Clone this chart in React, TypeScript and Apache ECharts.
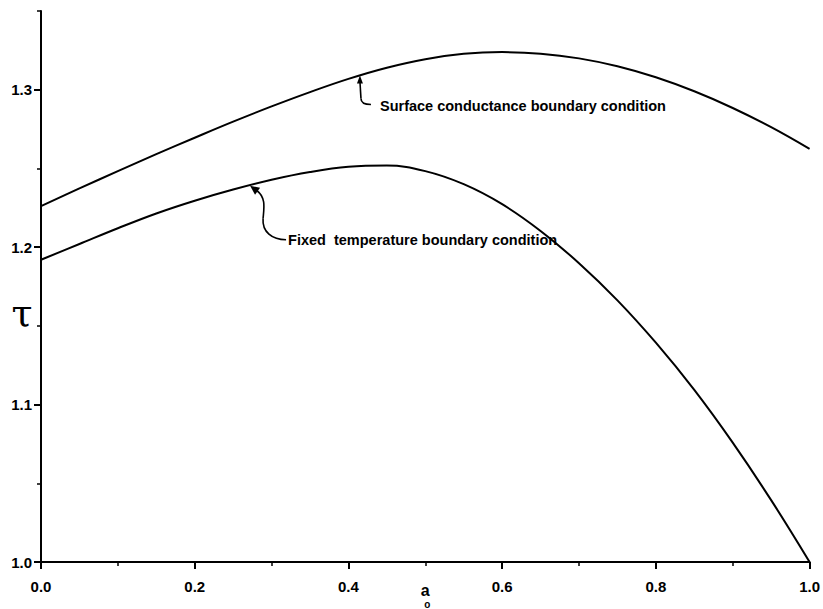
import React, { useEffect, useRef } from "react";
import * as echarts from "echarts";

// ---- data ----
const xValues = [0, 0.05, 0.1, 0.15, 0.2, 0.25, 0.3, 0.35, 0.4, 0.45, 0.5, 0.55, 0.6, 0.65, 0.7, 0.75, 0.8, 0.85, 0.9, 0.95, 1.0];
const surfaceConductance = [1.226, 1.2373, 1.2483, 1.2591, 1.2695, 1.2797, 1.2894, 1.2985, 1.3069, 1.314, 1.3194, 1.3228, 1.3239, 1.3229, 1.3199, 1.3149, 1.3079, 1.299, 1.2884, 1.2762, 1.2624];
const fixedTemperature = [1.192, 1.202, 1.212, 1.2214, 1.2295, 1.2366, 1.2428, 1.2477, 1.251, 1.2518, 1.2483, 1.24, 1.2273, 1.2103, 1.1898, 1.1662, 1.1393, 1.1093, 1.0758, 1.0393, 1.0];

const yMajorTicks = [1.0, 1.1, 1.2, 1.3];
const yMinorTicks = [1.05, 1.15, 1.25, 1.35];

const upperNoteText = "Surface conductance boundary condition";
const lowerNoteText = "Fixed  temperature boundary condition";
const upperNoteAnchor = [0.415, 1.309];
const lowerNoteAnchor = [0.272, 1.239];
const yNameAnchor = 1.158;

const FONT = "'Liberation Sans', Arial, sans-serif";

export default function App() {
  const ref = useRef<HTMLDivElement>(null);

  useEffect(() => {
    if (!ref.current) return;
    const chart = echarts.init(ref.current, null, { renderer: "svg" });

    const pairs = (ys: number[]) => xValues.map((x, i) => [x, ys[i]]);

    const option: any = {
      animation: false,
      backgroundColor: "#fff",
      grid: { left: 41, right: 6, top: 11, bottom: 47, containLabel: false },
      xAxis: {
        type: "value",
        min: 0,
        max: 1,
        interval: 0.2,
        axisLine: { show: true, lineStyle: { color: "#000", width: 2 } },
        axisTick: { show: true, length: 7, lineStyle: { color: "#000", width: 2 } },
        minorTick: { show: true, splitNumber: 2, length: 4, lineStyle: { color: "#000", width: 1.5 } },
        splitLine: { show: false },
        axisLabel: {
          color: "#000",
          fontFamily: FONT,
          fontWeight: "bold",
          fontSize: 15,
          margin: 17,
          formatter: (v: number) => v.toFixed(1),
        },
      },
      yAxis: [
        {
          type: "value",
          position: "left",
          min: 1.0,
          max: 1.35,
          interval: 0.05,
          axisLine: { show: true, lineStyle: { color: "#000", width: 2 } },
          axisTick: { show: true, length: 4, customValues: yMinorTicks, lineStyle: { color: "#000", width: 1.5 } },
          axisLabel: { show: false },
          splitLine: { show: false },
        },
        {
          type: "value",
          position: "left",
          min: 1.0,
          max: 1.35,
          interval: 0.05,
          axisLine: { show: false },
          axisTick: { show: true, length: 7, customValues: yMajorTicks, lineStyle: { color: "#000", width: 2 } },
          axisLabel: {
            show: true,
            customValues: yMajorTicks,
            color: "#000",
            fontFamily: FONT,
            fontWeight: "bold",
            fontSize: 15,
            margin: 9,
            formatter: (v: number) => v.toFixed(1),
          },
          splitLine: { show: false },
        },
      ],
      series: [
        {
          name: "Surface conductance boundary condition",
          type: "line",
          data: pairs(surfaceConductance),
          smooth: 0.4,
          showSymbol: false,
          lineStyle: { color: "#000", width: 2 },
          yAxisIndex: 0,
        },
        {
          name: "Fixed temperature boundary condition",
          type: "line",
          data: pairs(fixedTemperature),
          smooth: 0.4,
          showSymbol: false,
          lineStyle: { color: "#000", width: 2 },
          yAxisIndex: 0,
        },
      ],
    };

    chart.setOption(option);

    const toPx = (p: number[]) => chart.convertToPixel({ xAxisIndex: 0, yAxisIndex: 0 }, p) as number[];
    const [ux, uy] = toPx(upperNoteAnchor);
    const [lx, ly] = toPx(lowerNoteAnchor);
    const [, tauY] = toPx([0, yNameAnchor]);
    const [midX, baseY] = toPx([0.5, 1.0]);

    const stroke = { stroke: "#000", lineWidth: 1.6, fill: "none" };
    const noteStyle = {
      fill: "#000",
      fontFamily: FONT,
      fontWeight: "bold",
      fontSize: 14.5,
      verticalAlign: "middle",
      align: "left",
    };

    chart.setOption({
      graphic: [
        // upper annotation
        { type: "polygon", shape: { points: [[ux, uy], [ux - 3, uy + 8], [ux + 3, uy + 8]] }, style: { fill: "#000" } },
        { type: "polyline", shape: { points: [[ux, uy + 6], [ux + 1, uy + 23]] }, style: stroke },
        { type: "bezierCurve", shape: { x1: ux + 1, y1: uy + 23, cpx1: ux + 1, cpy1: uy + 29, x2: ux + 11, y2: uy + 29 }, style: stroke },
        { type: "text", x: ux + 20, y: uy + 30, style: { ...noteStyle, text: upperNoteText } },
        // lower annotation
        { type: "polygon", shape: { points: [[lx, ly], [lx + 10, ly + 2], [lx + 5, ly + 9]] }, style: { fill: "#000" } },
        { type: "bezierCurve", shape: { x1: lx + 7, y1: ly + 5, cpx1: lx + 16, cpy1: ly + 12, cpx2: lx + 14, cpy2: ly + 22, x2: lx + 13, y2: ly + 33 }, style: stroke },
        { type: "bezierCurve", shape: { x1: lx + 13, y1: ly + 33, cpx1: lx + 12, cpy1: ly + 46, cpx2: lx + 22, cpy2: ly + 54, x2: lx + 36, y2: ly + 54 }, style: stroke },
        { type: "text", x: lx + 38, y: ly + 54, style: { ...noteStyle, text: lowerNoteText } },
        // axis names
        { type: "text", x: 22, y: tauY, style: { text: "τ", fill: "#000", fontFamily: "'DejaVu Serif', serif", fontSize: 38, align: "center", verticalAlign: "middle" } },
        { type: "text", x: midX, y: baseY + 28, style: { text: "a", fill: "#000", fontFamily: FONT, fontWeight: "bold", fontSize: 16, lineHeight: 14, align: "center", verticalAlign: "middle" } },
        { type: "text", x: midX + 2, y: baseY + 42, style: { text: "o", fill: "#000", fontFamily: FONT, fontWeight: "bold", fontSize: 10, lineHeight: 10, align: "center", verticalAlign: "middle" } },
      ],
    });

    return () => chart.dispose();
  }, []);

  return (
    <div
      ref={ref}
      style={{ position: "fixed", left: 0, top: 0, width: 823, height: 609, background: "#fff" }}
    />
  );
}
